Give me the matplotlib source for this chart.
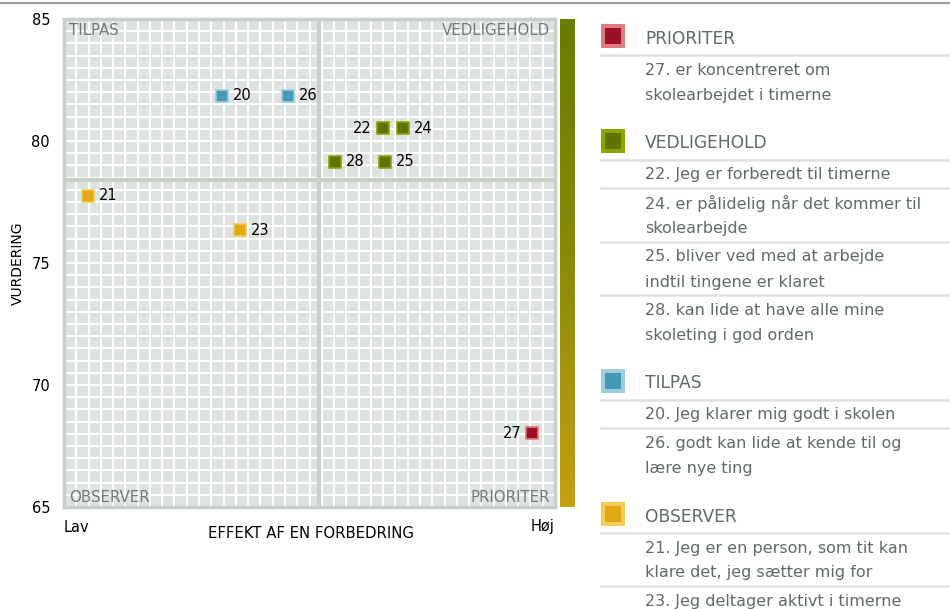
import numpy as np
import matplotlib
matplotlib.use("Agg")
import matplotlib.pyplot as plt
from matplotlib.colors import LinearSegmentedColormap

plt.rcParams['font.family'] = ['DejaVu Sans']

# data
ids = ['20', '26', '22', '24', '28', '25', '21', '23', '27']
effekt = [32.2, 45.6, 65.0, 69.0, 55.2, 65.3, 4.9, 35.8, 95.4]
vurdering = [81.86, 81.86, 80.52, 80.52, 79.14, 79.14, 77.75, 76.35, 68.02]
gruppe = ['TILPAS', 'TILPAS', 'VEDLIGEHOLD', 'VEDLIGEHOLD', 'VEDLIGEHOLD',
          'VEDLIGEHOLD', 'OBSERVER', 'OBSERVER', 'PRIORITER']
label_left = ['22', '27']
midt_x = 52.0
midt_y = 78.4
y_ticks = [65, 70, 75, 80, 85]

farver = {
    'PRIORITER': ('#9c1027', '#e07c80'),
    'VEDLIGEHOLD': ('#5f7400', '#8aa600'),
    'TILPAS': ('#4698b8', '#9fcedc'),
    'OBSERVER': ('#e0a912', '#f3cd55'),
}

legend_grupper = ['PRIORITER', 'VEDLIGEHOLD', 'TILPAS', 'OBSERVER']
legend_tekster = {
    'PRIORITER': [['27. er koncentreret om', 'skolearbejdet i timerne']],
    'VEDLIGEHOLD': [['22. Jeg er forberedt til timerne'],
                    ['24. er pålidelig når det kommer til', 'skolearbejde'],
                    ['25. bliver ved med at arbejde', 'indtil tingene er klaret'],
                    ['28. kan lide at have alle mine', 'skoleting i god orden']],
    'TILPAS': [['20. Jeg klarer mig godt i skolen'],
               ['26. godt kan lide at kende til og', 'lære nye ting']],
    'OBSERVER': [['21. Jeg er en person, som tit kan', 'klare det, jeg sætter mig for'],
                 ['23. Jeg deltager aktivt i timerne']],
}

W, H = 950, 609
fig = plt.figure(figsize=(W / 100, H / 100), dpi=100)


def fx(x):
    return x / W


def fy(y):
    return 1 - y / H


# top rule
fig.add_artist(plt.Line2D([0, 1], [fy(3), fy(3)], color='#9a9e9c', lw=1.6))

# main plot
ax = fig.add_axes([fx(64), fy(507), fx(555) - fx(64), fy(19) - fy(507)])
ax.set_xlim(0, 100)
ax.set_ylim(65, 85)
ax.set_facecolor('#dfe3e0')
for v in np.linspace(0, 100, 41):
    ax.axvline(v, color='white', lw=1.5, zorder=1)
for v in np.linspace(65, 85, 41):
    ax.axhline(v, color='white', lw=1.5, zorder=1)
ax.axvline(midt_x, color='#c6d0c9', lw=3, zorder=2)
ax.axhline(midt_y, color='#c6d0c9', lw=3, zorder=2)
for s in ax.spines.values():
    s.set_color('#c6d0c9')
    s.set_linewidth(2.5)

ax.set_xticks([])
ax.set_yticks(y_ticks)
ax.tick_params(axis='y', length=0, pad=10, labelsize=10.5)

for i, x, y, g in zip(ids, effekt, vurdering, gruppe):
    fill, edge = farver[g]
    ax.scatter(x, y, marker='s', s=80, color=fill, edgecolors=edge,
               linewidths=1.2, zorder=5)
    if i in label_left:
        ax.annotate(i, (x, y), xytext=(-8, 0), textcoords='offset points',
                    ha='right', va='center', fontsize=10.5, zorder=6)
    else:
        ax.annotate(i, (x, y), xytext=(8, 0), textcoords='offset points',
                    ha='left', va='center', fontsize=10.5, zorder=6)

kvad_farve = '#6e7a74'
ax.text(1, 84.85, 'TILPAS', ha='left', va='top', fontsize=10.8, color=kvad_farve, zorder=6)
ax.text(99, 84.85, 'VEDLIGEHOLD', ha='right', va='top', fontsize=10.8, color=kvad_farve, zorder=6)
ax.text(1, 65.1, 'OBSERVER', ha='left', va='bottom', fontsize=10.8, color=kvad_farve, zorder=6)
ax.text(99, 65.1, 'PRIORITER', ha='right', va='bottom', fontsize=10.8, color=kvad_farve, zorder=6)

fig.text(fx(18), fy(263), 'VURDERING', rotation=90, ha='center', va='center', fontsize=10)
fig.text(fx(311), fy(534), 'EFFEKT AF EN FORBEDRING', ha='center', va='center', fontsize=10.7)
fig.text(fx(64), fy(528), 'Lav', ha='left', va='center', fontsize=10.5)
fig.text(fx(555), fy(527), 'Høj', ha='right', va='center', fontsize=10.5)

# colour bar at the right of the plot
cax = fig.add_axes([fx(560), fy(507), fx(575) - fx(560), fy(19) - fy(507)])
cmap = LinearSegmentedColormap.from_list('vurd', ['#687b00', '#8a8a08', '#c4a012'])
cax.imshow(np.linspace(0, 1, 256).reshape(-1, 1), aspect='auto', cmap=cmap)
cax.set_axis_off()

# legend panel
tekst_farve = '#5f6b66'
linje_farve = '#e0e2e1'
y = 39
for g in legend_grupper:
    fill, edge = farver[g]
    sq = y - 3
    fig.patches.append(plt.Rectangle((fx(601), fy(sq + 12)), fx(24), fy(0) - fy(24),
                                     transform=fig.transFigure, facecolor=edge,
                                     edgecolor='none'))
    fig.patches.append(plt.Rectangle((fx(605), fy(sq + 8)), fx(16), fy(0) - fy(16),
                                     transform=fig.transFigure, facecolor=fill,
                                     edgecolor='none'))
    fig.text(fx(645), fy(y), g, ha='left', va='center', fontsize=12.3, color=tekst_farve)
    sep = y + 16
    for punkt in legend_tekster[g]:
        fig.add_artist(plt.Line2D([fx(601), 1], [fy(sep), fy(sep)], color=linje_farve, lw=1.8))
        for k, linje in enumerate(punkt):
            sidst = sep + 15.5 + 25 * k
            fig.text(fx(645), fy(sidst), linje, ha='left', va='center',
                     fontsize=11.5, color=tekst_farve)
        sep = sidst + 13
    y = sidst + 48

fig.savefig('out.png', dpi=100)
